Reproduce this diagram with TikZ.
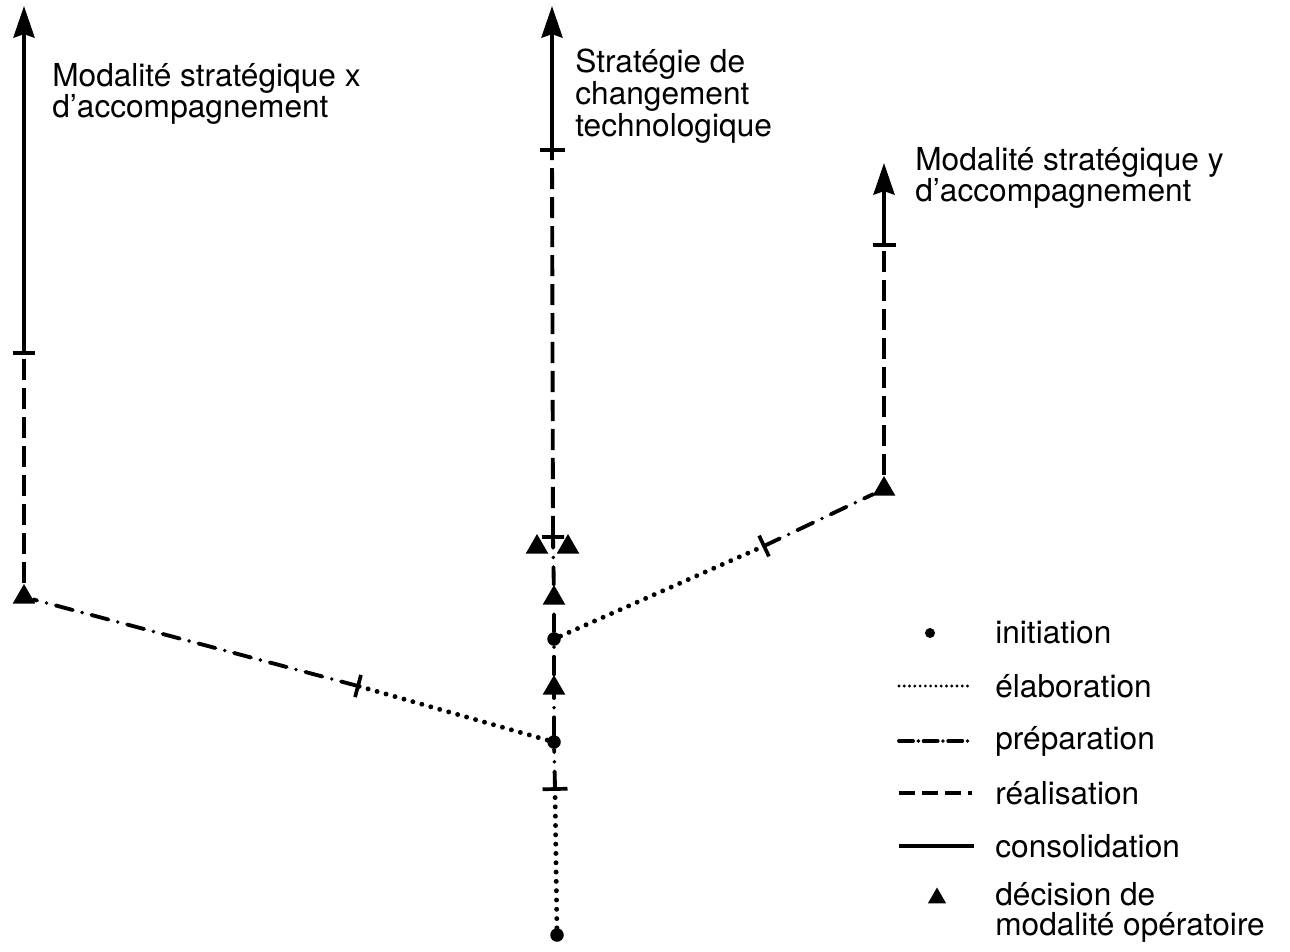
\documentclass[tikz,border=0pt]{standalone}
\usepackage{fontspec}
\setmainfont{TeX Gyre Heros}
\usetikzlibrary{calc,arrows.meta,shapes.geometric}

\tikzset{
  init/.style={circle, fill, inner sep=0pt, minimum size=0.27cm}, % initiation
  decision/.style={regular polygon, regular polygon sides=3, fill, inner sep=0pt, minimum size=0.52cm}, % decision
  elab/.style={line width=2.8pt, line cap=round, dash pattern=on 0pt off 5.3pt}, % elaboration
  prep/.style={line width=2.2pt, line cap=round, dash pattern=on 10pt off 5.5pt on 0pt off 5.5pt}, % preparation
  real/.style={line width=2.2pt, dash pattern=on 12pt off 4.5pt}, % realisation
  conso/.style={line width=2.1pt}, % consolidation
  crossbar/.style={line width=2.1pt},
  tip/.style={-{Stealth[length=18pt, width=12pt, inset=2pt]}},
  legtext/.style={font=\fontsize{18}{17}\selectfont, align=left, anchor=west, inner sep=0pt},
}

\begin{document}
\begin{tikzpicture}[x=0.02cm, y=-0.02cm] % 1 unite = 1 pixel
  \useasboundingbox (0,0) rectangle (1290,951);

  % tronc
  \node[init] (i0) at (557,935) {};
  \node[init] (i1) at (554,742) {};
  \node[init] (i2) at (554,639) {};
  \node[decision] (d3) at (554,688) {};
  \node[decision] (d4) at (554,598) {};
  \node[decision] (d5) at (537,547) {};
  \node[decision] (d6) at (568,547) {};
  \coordinate (k0) at (555,789);
  \coordinate (k1) at (553,537);
  \coordinate (k2) at (552,150);
  \coordinate (a0) at (552,6);

  \draw[elab] (i0) -- (k0);
  \draw[prep] (k0) -- (i1);
  \draw[prep] (i1) -- (d3) -- (i2);
  \draw[prep] (i2) -- (d4) -- (k1);
  \draw[real] (k1) -- (k2);
  \draw[conso, tip] (k2) -- (a0);
  \draw[crossbar] ($(k0)!0.25cm!90:(i1)$) -- ($(k0)!0.25cm!-90:(i1)$);
  \draw[crossbar] ($(k1)!0.22cm!90:(k2)$) -- ($(k1)!0.22cm!-90:(k2)$);
  \draw[crossbar] ($(k2)!0.25cm!90:(a0)$) -- ($(k2)!0.25cm!-90:(a0)$);

  % branche gauche
  \coordinate (k3) at (358,686);
  \node[decision] (d1) at (24,597) {};
  \coordinate (k4) at (24,353);
  \coordinate (a1) at (24,6);
  \draw[elab] (i1) -- (k3);
  \draw[prep] (k3) -- (d1);
  \draw[real] (d1) -- (k4);
  \draw[conso, tip] (k4) -- (a1);
  \draw[crossbar] ($(k3)!0.23cm!90:(d1)$) -- ($(k3)!0.23cm!-90:(d1)$);
  \draw[crossbar] ($(k4)!0.23cm!90:(a1)$) -- ($(k4)!0.23cm!-90:(a1)$);

  % branche droite
  \coordinate (k5) at (764,546);
  \node[decision] (d2) at (884,489) {};
  \coordinate (k6) at (884,245);
  \coordinate (a2) at (884,163);
  \draw[elab] (i2) -- (k5);
  \draw[prep] (k5) -- (d2);
  \draw[real] (d2) -- (k6);
  \draw[conso, tip] (k6) -- (a2);
  \draw[crossbar] ($(k5)!0.23cm!90:(d2)$) -- ($(k5)!0.23cm!-90:(d2)$);
  \draw[crossbar] ($(k6)!0.23cm!90:(a2)$) -- ($(k6)!0.23cm!-90:(a2)$);

  % textes
  \node[legtext] (xlab) at (52,94) {Modalité stratégique x\\d'accompagnement};
  \node[legtext] (slab) at (575,96) {Stratégie de\\changement\\technologique};
  \node[legtext] (ylab) at (915,178) {Modalité stratégique y\\d'accompagnement};

  % legende
  \node[init, minimum size=0.2cm] (g1) at (930,633) {};
  \coordinate (g2a) at (899,686); \coordinate (g2b) at (968,686);
  \coordinate (g3a) at (899,741); \coordinate (g3b) at (972,741);
  \coordinate (g4a) at (899,793); \coordinate (g4b) at (972,793);
  \coordinate (g5a) at (899,846); \coordinate (g5b) at (974,846);
  \node[decision, minimum size=0.42cm] (g6) at (937,898) {};
  \draw[elab, line width=1.8pt, dash pattern=on 0pt off 3pt] (g2a) -- (g2b);
  \draw[prep, dash pattern=on 8pt off 3pt on 0pt off 3pt] (g3a) -- (g3b);
  \draw[real, dash pattern=on 9pt off 4pt] (g4a) -- (g4b);
  \draw[conso] (g5a) -- (g5b);
  \node[legtext] (t1) at (995,633) {initiation};
  \node[legtext] (t2) at (995,686) {élaboration};
  \node[legtext] (t3) at (995,741) {préparation};
  \node[legtext] (t4) at (995,793) {réalisation};
  \node[legtext] (t5) at (995,846) {consolidation};
  \node[legtext] (t6) at (995,912) {décision de\\modalité opératoire};
\end{tikzpicture}
\end{document}
